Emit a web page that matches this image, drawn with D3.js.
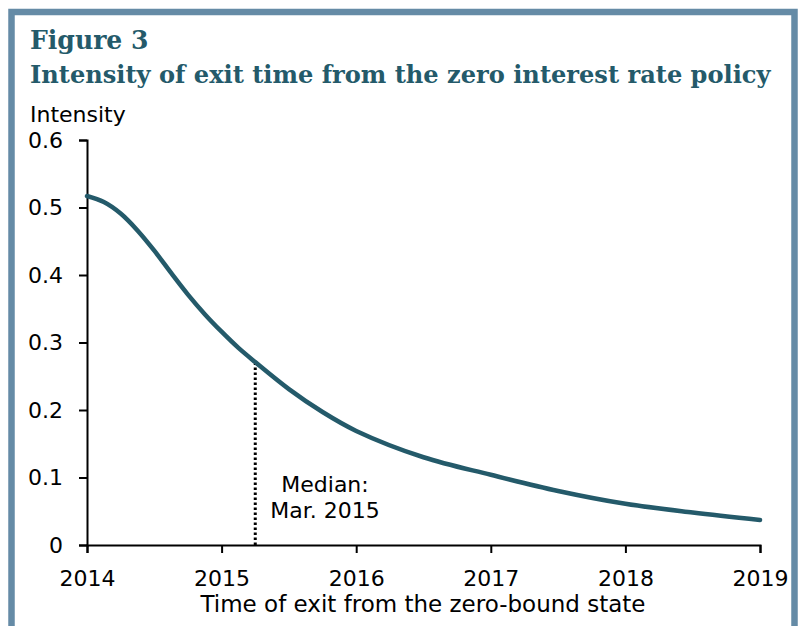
<!DOCTYPE html>
<html>
<head>
<meta charset="utf-8">
<script src="https://d3js.org/d3.v7.min.js"></script>
<style>
  body { margin: 0; background: #fff; }
  .tick text { font-family: "DejaVu Sans", Verdana, sans-serif; font-size: 22px; fill: #000; }
  .domain, .tick line { stroke: #000; stroke-width: 2px; }
  .title { font-family: "DejaVu Serif", serif; font-weight: bold; fill: #245a6a; }
</style>
</head>
<body>
<svg width="799" height="626"></svg>
<script>
// data
var years = [2014, 2014.125, 2014.25, 2014.375, 2014.5, 2014.625, 2014.75, 2014.875, 2015, 2015.125, 2015.25, 2015.5, 2015.75, 2016, 2016.5, 2017, 2017.5, 2018, 2018.5, 2019];
var intensity = [0.517, 0.508, 0.491, 0.466, 0.436, 0.403, 0.371, 0.342, 0.316, 0.292, 0.271, 0.231, 0.197, 0.169, 0.130, 0.104, 0.080, 0.061, 0.048, 0.037];
var xTicks = [2014, 2015, 2016, 2017, 2018, 2019];
var yTicks = [0, 0.1, 0.2, 0.3, 0.4, 0.5, 0.6];
var medianYear = 2015.25;
var medianValue = 0.271;

var svg = d3.select("svg");
var teal = "#245a6a";

// frame
svg.append("rect")
  .attr("x", 11.5).attr("y", 12)
  .attr("width", 783).attr("height", 700)
  .attr("fill", "none")
  .attr("stroke", "#658ba6")
  .attr("stroke-width", 6.5);

var fig = svg.append("text")
  .attr("class", "title")
  .attr("x", 30).attr("y", 49)
  .text("Figure 3");

var title = svg.append("text")
  .attr("class", "title")
  .attr("x", 30).attr("y", 83)
  .style("font-size", "26px")
  .text("Intensity of exit time from the zero interest rate policy");

// shrink the title until it fits the 741px it takes in the original
var fs = 26 * 741 / title.node().getComputedTextLength();
if (fs > 26) fs = 26;
title.style("font-size", fs + "px");
fig.style("font-size", (fs + 1) + "px");

svg.append("text")
  .attr("x", 30).attr("y", 122)
  .style("font-family", "'DejaVu Sans', Verdana, sans-serif")
  .style("font-size", "22px")
  .text("Intensity");

var x = d3.scaleLinear().domain([2014, 2019]).range([87, 760]);
var y = d3.scaleLinear().domain([0, 0.6]).range([545, 140]);

svg.append("g")
  .attr("transform", "translate(0,545)")
  .call(d3.axisBottom(x).tickValues(xTicks).tickFormat(d3.format("d")).tickSizeOuter(0).tickSize(8).tickPadding(17));

svg.append("g")
  .attr("transform", "translate(87,0)")
  .call(d3.axisLeft(y).tickValues(yTicks).tickFormat(function(d) { return d === 0 ? "0" : d3.format(".1f")(d); }).tickSizeOuter(0).tickSize(8).tickPadding(16));

svg.append("text")
  .attr("x", 423).attr("y", 612)
  .attr("text-anchor", "middle")
  .style("font-family", "'DejaVu Sans', Verdana, sans-serif")
  .style("font-size", "23px")
  .text("Time of exit from the zero-bound state");

// median marker
svg.append("line")
  .attr("x1", x(medianYear)).attr("x2", x(medianYear))
  .attr("y1", y(0)).attr("y2", y(medianValue))
  .attr("stroke", "#000")
  .attr("stroke-width", 3)
  .attr("stroke-dasharray", "2.5,2.5");

var med = svg.append("text")
  .attr("text-anchor", "middle")
  .style("font-family", "'DejaVu Sans', Verdana, sans-serif")
  .style("font-size", "22px");
med.append("tspan").attr("x", 325).attr("y", 492).text("Median:");
med.append("tspan").attr("x", 325).attr("y", 518).text("Mar. 2015");

var line = d3.line()
  .x(function(d, i) { return x(years[i]); })
  .y(function(d) { return y(d); })
  .curve(d3.curveCatmullRom.alpha(0.5));

svg.append("path")
  .datum(intensity)
  .attr("d", line)
  .attr("fill", "none")
  .attr("stroke", teal)
  .attr("stroke-width", 4.5)
  .attr("stroke-linecap", "round");
</script>
</body>
</html>
